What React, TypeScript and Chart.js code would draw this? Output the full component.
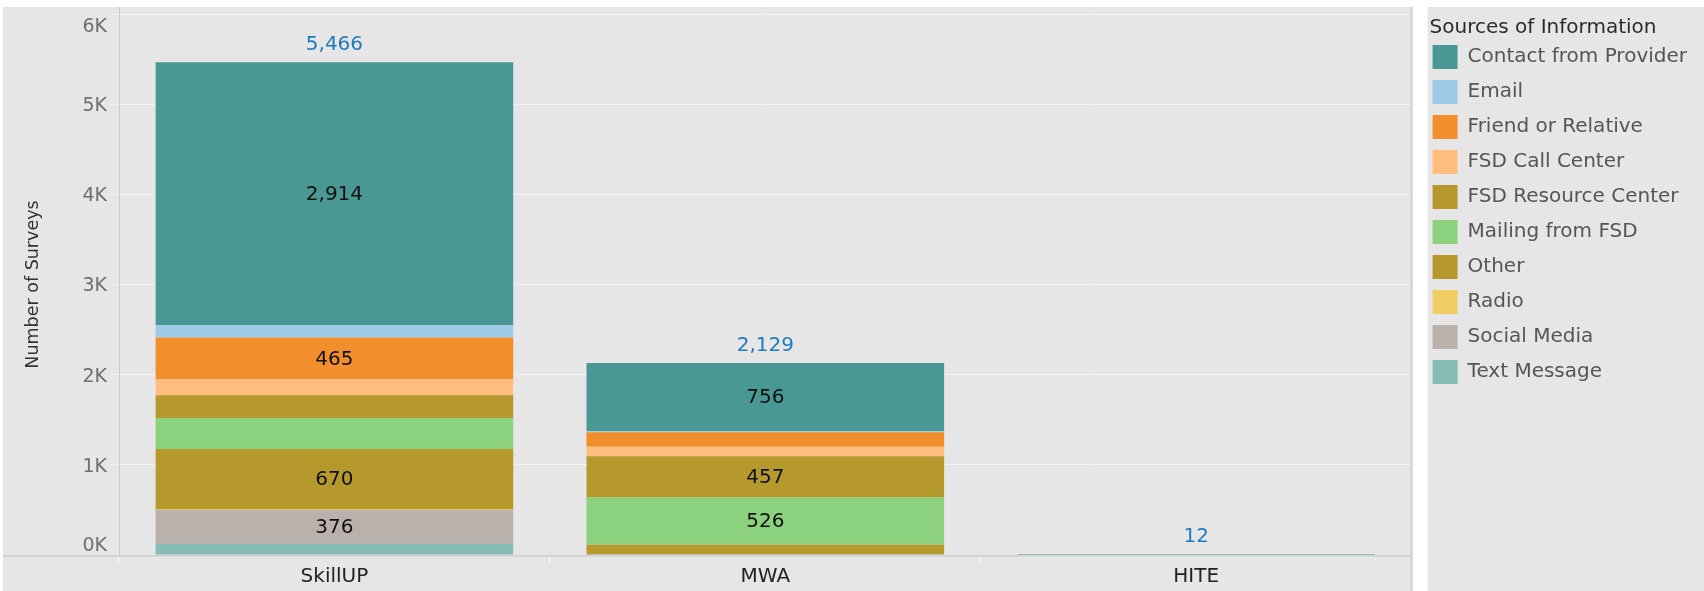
import React, { useEffect, useRef } from 'react';
import { Chart, registerables } from 'chart.js';

Chart.register(...registerables);

// ---- data ----
const categories = ['SkillUP', 'MWA', 'HITE'];
const sourceNames = [
  'Contact from Provider',
  'Email',
  'Friend or Relative',
  'FSD Call Center',
  'FSD Resource Center',
  'Mailing from FSD',
  'Other',
  'Radio',
  'Social Media',
  'Text Message',
];
const contactFromProvider = [2914, 756, 12];
const email = [140, 12, 0];
const friendOrRelative = [465, 160, 0];
const fsdCallCenter = [175, 105, 0];
const fsdResourceCenter = [252, 457, 0];
const mailingFromFsd = [345, 526, 0];
const other = [670, 105, 0];
const radio = [7, 3, 0];
const socialMedia = [376, 3, 0];
const textMessage = [122, 2, 0];
const yTickMin = 0;
const yTickMax = 6000;
const yTickStep = 1000;
const segmentLabelMin = 360;

const sourceValues = [
  contactFromProvider,
  email,
  friendOrRelative,
  fsdCallCenter,
  fsdResourceCenter,
  mailingFromFsd,
  other,
  radio,
  socialMedia,
  textMessage,
];
const sourceColors = [
  '#499894',
  '#A0CBE8',
  '#F28E2B',
  '#FFBE7D',
  '#B6992D',
  '#8CD17D',
  '#B6992D',
  '#F1CE63',
  '#BAB0AC',
  '#86BCB6',
];

const FONT = '"DejaVu Sans", sans-serif';

const panelPlugin = {
  id: 'panels',
  afterLayout(chart: any) {
    const legend = chart.legend;
    if (!legend || legend.__shifted) return;
    ['drawTitle', '_drawTitle'].forEach((name) => {
      const orig = legend[name];
      if (typeof orig === 'function') {
        legend[name] = function (...args: any[]) {
          const l = this.left;
          this.left = l + 8;
          const r = orig.apply(this, args);
          this.left = l;
          return r;
        };
      }
    });
    legend.__shifted = true;
  },
  beforeDraw(chart: any) {
    const { ctx, chartArea, legend } = chart;
    ctx.save();
    ctx.fillStyle = '#ffffff';
    ctx.fillRect(0, 0, chart.width, chart.height);
    ctx.fillStyle = '#e6e6e6';
    ctx.fillRect(3, 7, chartArea.right + 1 - 3, chart.height - 7);
    const lp = legend.left + 6;
    ctx.fillRect(lp, 7, chart.width - lp, chart.height - 7);
    ctx.restore();
  },
  afterDatasetsDraw(chart: any) {
    const { ctx, chartArea } = chart;
    ctx.save();
    ctx.fillStyle = '#cccccc';
    ctx.fillRect(Math.round(chartArea.left), 7, 1, chartArea.bottom - 7);
    ctx.fillStyle = '#cfcfcf';
    ctx.fillRect(3, chartArea.bottom, chartArea.right - 3, 1.6);
    ctx.fillStyle = '#d2d2d2';
    ctx.fillRect(chartArea.right - 1, 7, 2, chart.height - 7);
    ctx.restore();
  },
};

const labelPlugin = {
  id: 'barLabels',
  afterDatasetsDraw(chart: any) {
    const { ctx } = chart;
    ctx.save();
    ctx.font = '20px ' + FONT;
    ctx.textAlign = 'center';
    ctx.textBaseline = 'middle';
    chart.data.datasets.forEach((ds: any, i: number) => {
      const meta = chart.getDatasetMeta(i);
      meta.data.forEach((el: any, j: number) => {
        const v = ds.data[j];
        if (v >= segmentLabelMin) {
          ctx.fillStyle = '#111111';
          ctx.fillText(v.toLocaleString('en-US'), el.x, (el.y + el.base) / 2 + 1);
        }
      });
    });
    const yScale = chart.scales.y;
    const meta0 = chart.getDatasetMeta(0);
    categories.forEach((_c, j) => {
      const total = sourceValues.reduce((s, arr) => s + arr[j], 0);
      const x = meta0.data[j].x;
      ctx.fillStyle = '#1f7bbf';
      ctx.fillText(total.toLocaleString('en-US'), x, yScale.getPixelForValue(total) - 17);
    });
    ctx.restore();
  },
};

export default function App() {
  const ref = useRef<HTMLCanvasElement | null>(null);

  useEffect(() => {
    document.body.style.margin = '0';
    const canvas = ref.current;
    if (!canvas) return;

    // stack from bottom: Text Message first
    const order = sourceNames.map((_, i) => i).reverse();
    const datasets = order.map((i) => ({
      label: sourceNames[i],
      data: sourceValues[i],
      backgroundColor: sourceColors[i],
      borderWidth: 0,
      barPercentage: 0.83,
      categoryPercentage: 1,
      stack: 'all',
    }));

    const chart = new Chart(canvas, {
      type: 'bar',
      data: { labels: categories, datasets },
      plugins: [panelPlugin, labelPlugin],
      options: {
        animation: false,
        responsive: false,
        devicePixelRatio: 1,
        layout: { padding: { top: 14, right: 7, bottom: 0, left: 0 } },
        font: { family: FONT },
        plugins: {
          tooltip: { enabled: false },
          legend: {
            position: 'right',
            align: 'start',
            reverse: true,
            title: {
              display: true,
              text: 'Sources of Information',
              color: '#2b2b2b',
              position: 'start',
              font: { family: FONT, size: 20, lineHeight: 0.6 },
              padding: { top: 4, bottom: 4 },
            },
            labels: {
              boxWidth: 25,
              boxHeight: 24,
              padding: 11,
              color: '#555555',
              font: { family: FONT, size: 20 },
            },
          },
        },
        scales: {
          x: {
            stacked: true,
            offset: true,
            grid: {
              display: true,
              offset: true,
              drawOnChartArea: false,
              drawTicks: true,
              tickLength: 8,
              color: 'rgba(250,250,250,0.9)',
            },
            border: { display: false },
            ticks: {
              color: '#222222',
              font: { family: FONT, size: 20 },
              padding: 2,
            },
            afterFit: (s: any) => {
              s.height = 36;
            },
          },
          y: {
            stacked: true,
            min: yTickMin,
            max: yTickMax,
            border: { display: false },
            grid: {
              color: (c: any) => (c.tick && c.tick.value === 0 ? 'rgba(0,0,0,0)' : '#f4f4f4'),
              lineWidth: 1,
              tickLength: 8,
            },
            ticks: {
              stepSize: yTickStep,
              padding: 4,
              labelOffset: 2,
              color: '#6e6e6e',
              font: { family: FONT, size: 19 },
              callback: (v: any) => {
                const t = Number(v) / 1000 + 'K';
                if (Number(v) === yTickMin) return [t, ''];
                if (Number(v) === yTickMax) return ['', t];
                return t;
              },
            },
            title: {
              display: true,
              text: 'Number of Surveys',
              color: '#333333',
              font: { family: FONT, size: 17.5 },
              padding: { top: 23, bottom: 0 },
            },
            afterFit: (s: any) => {
              s.width = 119;
              s.paddingTop = 0;
              s.paddingBottom = 0;
            },
          },
          spacer: {
            type: 'linear',
            position: 'right',
            display: true,
            grid: { display: false },
            border: { display: false },
            ticks: { display: false },
            afterFit: (s: any) => {
              s.width = 10;
              s.paddingTop = 0;
              s.paddingBottom = 0;
            },
          },
        },
      } as any,
    });
    return () => chart.destroy();
  }, []);

  return <canvas ref={ref} width={1704} height={591} style={{ display: 'block', width: 1704, height: 591 }} />;
}
